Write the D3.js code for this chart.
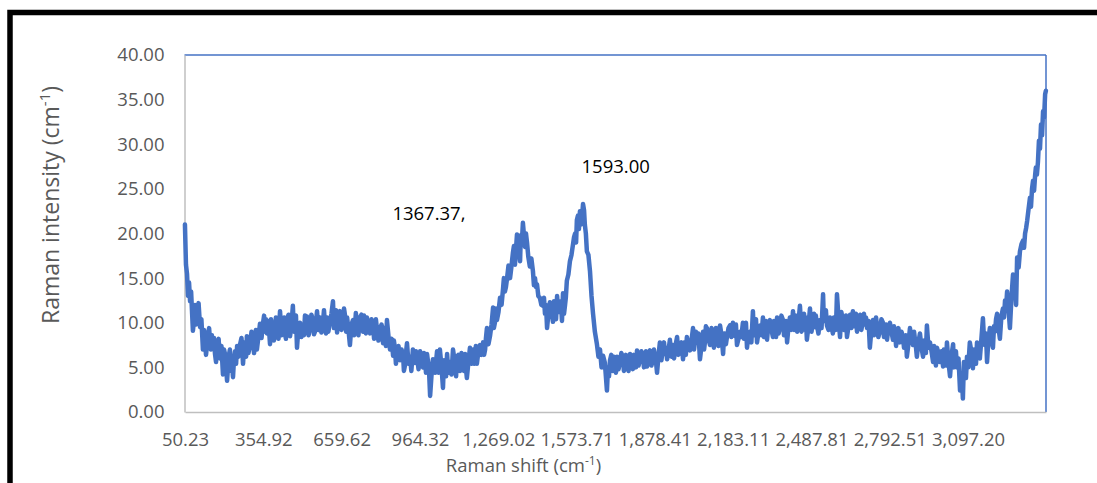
<!DOCTYPE html>
<html><head><meta charset="utf-8">
<script src="https://cdn.jsdelivr.net/npm/d3@7"></script>
<style>
body{margin:0;background:#fff;overflow:hidden}
svg{display:block}
text{font-family:"Open Sans",sans-serif}
</style>
</head><body>
<svg id="chart" width="1097" height="483"></svg>
<script>
// Raman shift (cm-1) and intensity (first reading pass)
const ramanShift = [
50,54,58,62,66,70,78,81,89,97,
109,120,128,136,144,151,159,167,175,186,
198,206,214,225,233,237,245,253,264,276,
284,291,303,315,323,330,342,354,361,369,
381,389,393,400,408,420,432,439,447,459,
470,478,486,498,509,517,525,537,548,556,
564,575,587,595,603,614,626,634,642,653,
665,673,681,692,704,712,719,731,743,751,
758,770,782,789,797,809,821,828,836,848,
860,867,875,887,899,906,914,926,937,945,
953,965,976,984,992,1000,1004,1011,1015,1031,
1042,1054,1062,1070,1081,1093,1101,1109,1120,1132,
1140,1147,1159,1171,1179,1186,1198,1210,1218,1225,
1237,1249,1256,1264,1276,1288,1295,1303,1315,1326,
1334,1342,1354,1361,1365,1373,1381,1392,1404,1412,
1420,1431,1443,1451,1459,1466,1470,1482,1490,1498,
1509,1517,1521,1529,1536,1548,1560,1568,1575,1583,
1587,1595,1599,1606,1614,1626,1638,1645,1653,1665,
1677,1684,1692,1696,1704,1715,1723,1731,1743,1754,
1762,1770,1782,1793,1801,1809,1821,1832,1840,1848,
1859,1871,1879,1887,1898,1910,1918,1926,1937,1949,
1957,1965,1976,1988,1996,2003,2015,2027,2035,2042,
2054,2066,2074,2081,2093,2105,2112,2120,2132,2144,
2151,2159,2171,2182,2190,2198,2210,2221,2229,2237,
2249,2260,2268,2276,2288,2299,2307,2315,2326,2338,
2346,2354,2365,2377,2385,2393,2404,2416,2424,2432,
2443,2455,2463,2470,2482,2494,2502,2509,2521,2533,
2540,2548,2560,2571,2579,2587,2599,2610,2618,2626,
2638,2649,2657,2665,2677,2688,2696,2704,2715,2727,
2735,2743,2754,2766,2774,2782,2793,2805,2813,2821,
2832,2844,2852,2859,2871,2883,2891,2898,2910,2922,
2930,2937,2949,2961,2969,2976,2988,3000,3007,3015,
3027,3039,3046,3054,3066,3073,3077,3085,3093,3104,
3116,3124,3132,3143,3155,3163,3171,3182,3194,3202,
3210,3221,3233,3241,3249,3256,3260,3272,3280,3284,
3288,3299,3311,3319,3327,3338,3342,3350,3358,3361,
3369,3373,3377,3381,3385,3389,3393,3397,3400
];
const intensity = [
21.0,16.5,15.5,13.0,14.5,12.4,11.0,9.1,12.0,11.0,
9.5,7.0,8.0,7.5,9.4,7.0,7.2,6.5,7.5,6.0,
4.2,6.5,3.5,7.0,5.5,3.9,6.8,7.4,7.5,5.4,
7.8,8.5,7.5,7.5,8.3,7.0,9.9,10.0,9.0,8.8,
7.6,9.5,9.9,8.7,9.0,11.3,9.3,8.8,10.4,8.5,
11.9,9.8,7.2,10.0,9.4,10.8,10.7,9.4,10.3,9.0,
11.3,10.6,10.0,9.8,10.6,10.0,12.4,10.5,8.9,11.3,
10.0,10.8,10.6,7.5,10.3,9.6,10.0,10.6,9.0,10.2,
10.6,8.8,9.7,8.9,9.3,9.4,7.7,8.5,10.3,7.0,
6.3,7.2,6.5,5.8,6.3,5.2,7.7,6.2,7.0,5.5,
6.2,6.8,5.0,5.8,6.5,4.5,1.8,4.8,5.9,6.8,
7.0,2.7,5.0,6.5,5.6,7.0,5.0,6.2,4.6,5.8,
6.5,3.8,7.2,7.0,6.2,5.4,7.5,7.8,7.0,9.4,
8.5,11.7,10.0,10.3,12.8,13.9,13.5,14.9,15.0,17.8,
16.5,19.9,16.9,19.0,21.2,18.5,19.0,16.3,15.8,15.0,
14.3,12.8,11.9,11.0,9.4,11.5,12.3,10.1,11.5,13.0,
11.5,10.2,13.3,12.0,14.7,16.9,18.8,20.0,21.5,20.5,
22.5,21.8,23.3,21.0,18.0,15.8,11.0,9.0,7.6,7.0,
6.3,5.5,2.4,5.0,5.8,4.6,5.5,6.2,5.6,6.2,
5.0,5.3,6.5,4.8,6.0,6.9,5.9,6.5,5.8,5.1,
6.9,5.9,6.3,4.4,7.8,7.2,6.5,5.9,8.1,7.5,
6.8,8.4,6.9,5.9,7.5,8.4,6.9,9.4,8.2,7.8,
5.9,9.0,8.0,9.4,7.5,9.0,8.0,8.4,9.7,6.5,
8.8,8.4,9.7,10.0,8.5,7.5,9.0,10.0,9.0,7.2,
9.0,11.3,9.5,7.8,9.7,10.6,9.2,8.1,10.3,8.4,
9.5,10.6,9.4,10.3,9.0,7.8,10.6,11.3,10.0,9.0,
11.9,10.0,9.2,8.1,11.6,10.3,9.5,9.7,10.3,13.2,
10.5,9.7,10.6,8.8,10.0,13.2,8.4,10.3,9.5,8.4,
10.9,11.3,10.2,9.0,10.9,10.3,9.8,9.4,7.2,10.3,
9.5,9.7,9.0,10.0,9.2,8.1,10.0,8.1,9.0,8.8,
7.8,8.4,7.8,6.2,9.4,7.5,8.0,6.2,8.8,6.2,
7.5,9.7,7.8,5.6,6.5,7.2,5.6,5.1,6.5,7.8,
4.0,7.6,6.0,5.0,2.4,4.0,1.5,4.5,6.2,7.8,
4.9,6.5,7.8,6.0,10.5,7.5,5.6,9.4,7.2,9.0,
11.0,8.2,11.6,12.5,13.5,11.0,9.4,15.4,14.5,12.0,
17.3,18.0,19.2,20.0,21.4,24.0,23.0,25.9,26.5,27.4,
28.0,30.4,29.5,32.2,31.0,33.7,33.0,35.6,36.0
];
// second reading pass: the opposite edge of the dense noise band, between the first-pass points
const ramanShiftB = [
74,85,93,103,
114,124,132,140,148,155,163,171,181,192,
202,210,220,229,241,249,258,270,280,
288,297,309,319,326,336,348,358,365,375,
385,396,404,414,426,436,443,453,464,
474,482,492,503,513,521,531,542,552,560,
569,581,591,599,608,620,630,638,647,659,
669,677,686,698,708,715,725,737,747,754,
764,776,786,793,803,815,825,832,842,854,
863,871,881,893,902,910,920,931,941,949,
959,970,980,988,996,1023,1036,
1048,1058,1066,1075,1087,1097,1105,1114,1126,1136,
1143,1153,1165,1175,1182,1192,1204,1214,1221,1231,
1243,1252,1260,1270,1282,1291,1299,1309,1320,1330,
1338,1348,1357,1377,1386,1398,1408,1416,
1425,1437,1447,1455,1476,1486,1494,1503,
1513,1525,1532,1542,1554,1564,1572,1579,
1591,1603,1610,1620,1632,1659,
1671,1700,1709,1719,1727,1737,1748,1758,
1766,1776,1787,1797,1805,1815,1826,1836,1844,1853,
1865,1875,1883,1893,1904,1914,1922,1932,1943,1953,
1961,1970,1982,1992,1999,2009,2021,2031,2038,2048,
2060,2070,2077,2087,2099,2108,2116,2126,2138,2148,
2155,2165,2176,2186,2194,2204,2215,2225,2233,2243,
2254,2264,2272,2282,2293,2303,2311,2320,2332,2342,
2350,2360,2371,2381,2389,2398,2410,2420,2428,2437,
2449,2459,2466,2476,2488,2498,2505,2515,2527,2536,
2544,2554,2565,2575,2583,2593,2604,2614,2622,2632,
2643,2653,2661,2671,2682,2692,2700,2710,2721,2731,
2739,2748,2760,2770,2778,2787,2799,2809,2817,2826,
2838,2848,2855,2865,2877,2887,2894,2904,2916,2926,
2933,2943,2955,2965,2972,2982,2994,3003,3011,3021,
3033,3042,3050,3060,3081,3089,3098,3110,
3120,3128,3137,3149,3159,3167,3176,3188,3198,3206,
3215,3227,3237,3245,3266,3276,
3294,3305,3315,3323,3332,3346,3354,3365
];
const intensityB = [
13.5,10.2,9.8,12.2,
10.4,9.2,6.4,8.8,7.9,8.6,8.3,5.6,8.2,7.4,
7.0,5.0,6.2,4.6,6.0,5.4,6.2,8.3,7.2,
6.2,6.6,9.0,6.6,9.2,8.4,8.3,10.8,10.4,10.2,
10.4,8.0,10.6,8.2,8.6,10.6,8.2,10.9,9.6,
9.0,10.8,9.6,8.4,8.6,9.2,8.6,10.9,8.7,10.2,
9.2,8.9,11.4,8.8,9.0,11.0,9.4,11.4,10.6,9.2,
11.6,9.0,9.3,9.8,8.6,11.1,8.6,10.9,10.8,8.8,
9.4,10.4,8.2,10.4,8.0,9.8,9.4,7.4,8.5,8.2,
8.0,5.4,7.4,7.0,4.6,6.6,5.4,4.6,6.4,6.8,
4.8,5.4,6.6,4.4,5.6,4.4,4.4,
5.2,5.8,4.0,4.4,4.2,6.2,4.0,6.4,6.6,4.6,
5.0,5.6,5.4,5.4,7.4,6.8,6.4,6.4,8.2,7.6,
9.8,9.4,11.6,11.2,12.0,15.0,14.0,16.4,16.2,18.6,
18.2,18.6,19.8,20.0,17.4,17.2,14.2,14.0,
13.0,12.0,12.8,12.0,11.4,12.4,10.4,11.2,
12.4,11.0,12.8,15.4,17.6,19.6,19.0,22.0,
21.0,22.6,20.0,17.6,13.0,6.2,
5.0,4.0,6.4,6.2,4.4,4.8,6.6,4.6,
6.4,4.6,5.6,6.4,5.0,5.2,6.8,5.0,6.8,6.4,
5.2,7.0,5.6,6.4,5.8,7.8,7.2,7.0,6.2,6.0,
7.8,6.4,7.8,7.8,6.4,7.6,8.0,7.0,9.0,8.8,
7.4,7.0,9.6,8.2,9.4,7.2,9.4,7.4,8.6,8.8,
7.6,9.4,8.4,8.6,9.8,8.2,8.4,8.2,10.0,8.8,
7.8,8.6,10.4,9.0,8.6,8.4,10.2,9.8,9.2,10.2,
8.4,8.8,10.8,8.6,10.2,9.4,9.2,9.2,10.8,10.0,
9.0,11.0,10.6,9.6,9.0,11.0,10.8,8.8,9.4,10.2,
11.4,9.2,9.8,10.6,9.2,10.6,11.2,9.2,10.8,9.6,
9.4,9.6,11.0,10.2,9.2,11.0,10.6,10.2,9.2,8.6,
10.6,8.4,10.4,8.4,9.8,9.4,9.0,9.6,7.4,9.4,
9.0,7.2,8.6,7.6,8.4,9.0,7.4,7.8,7.2,8.0,
6.6,7.2,6.8,7.4,5.2,6.6,6.8,7.0,5.2,5.6,
6.4,5.0,6.8,6.0,5.6,3.8,5.0,6.8,
7.0,5.4,6.4,8.2,8.2,8.8,8.0,8.0,9.6,10.4,
9.6,10.8,10.6,11.6,12.8,13.2,
16.2,18.8,18.4,20.6,22.6,25.0,24.8,26.6
];
const xTickValues = [50.23, 354.92, 659.62, 964.32, 1269.02, 1573.71, 1878.41, 2183.11, 2487.81, 2792.51, 3097.20];
const yTickValues = [0, 5, 10, 15, 20, 25, 30, 35, 40];
const peakShifts = [1367.37, 1593.00];
const peakLabels = ["1367.37,", "1593.00"];
const peakLabelY = [21.5, 26.8];
const xTitle = "Raman shift (cm";
const yTitle = "Raman intensity (cm";

const svg = d3.select("#chart");
const W = 1097, H = 483;
const plot = {left: 185, right: 1046, top: 55, bottom: 412};

// outer black frame (cropped at right and bottom in the reference)
svg.append("rect").attr("x", 10).attr("y", 12.5).attr("width", W + 20).attr("height", H + 20)
  .attr("fill", "none").attr("stroke", "#000").attr("stroke-width", 5.5);

const x = d3.scaleLinear().domain([50.23, 3400.4]).range([plot.left, plot.right]);
const y = d3.scaleLinear().domain([0, 40]).range([plot.bottom, plot.top]);

// plot area border: top & right in blue, axes in grey
svg.append("line").attr("x1", plot.left - 0.5).attr("x2", plot.right).attr("y1", plot.top).attr("y2", plot.top)
  .attr("stroke", "#4472C4").attr("stroke-width", 1.5);
svg.append("line").attr("x1", plot.right).attr("x2", plot.right).attr("y1", plot.top).attr("y2", plot.bottom)
  .attr("stroke", "#4472C4").attr("stroke-width", 1.5);

const yAxis = svg.append("g").attr("transform", `translate(${plot.left - 0.5},0)`)
  .call(d3.axisLeft(y).tickValues(yTickValues).tickSize(0).tickPadding(20).tickFormat(d3.format(".2f")));
yAxis.select(".domain").attr("stroke", "#BFBFBF").attr("stroke-width", 1.5);
yAxis.selectAll("text").attr("fill", "#595959").style("font-size", "18.5px").style("font-family", "Open Sans");

const xAxis = svg.append("g").attr("transform", `translate(0,${plot.bottom})`)
  .call(d3.axisBottom(x).tickValues(xTickValues).tickSize(0).tickPadding(21).tickFormat(d3.format(",.2f")));
xAxis.select(".domain").attr("stroke", "#BFBFBF").attr("stroke-width", 1.5);
xAxis.selectAll("text").attr("fill", "#595959").style("font-size", "18.5px").style("font-family", "Open Sans");

// spectrum: both reading passes merged in order of Raman shift
const nA = Math.min(ramanShift.length, intensity.length);
const nB = Math.min(ramanShiftB.length, intensityB.length);
const data = d3.range(nA).map(i => [ramanShift[i], intensity[i]])
  .concat(d3.range(nB).map(i => [ramanShiftB[i], intensityB[i]]))
  .sort((a, b) => a[0] - b[0]);
svg.append("path").datum(data)
  .attr("fill", "none").attr("stroke", "#4472C4").attr("stroke-width", 4.5)
  .attr("stroke-linejoin", "round").attr("stroke-linecap", "round")
  .attr("d", d3.line().x(d => x(d[0])).y(d => y(d[1])));

// peak labels
svg.append("text").attr("x", x(peakShifts[0]) - 58).attr("y", y(peakLabelY[0]))
  .attr("text-anchor", "end").attr("fill", "#000").style("font-size", "18.5px").text(peakLabels[0]);
svg.append("text").attr("x", x(peakShifts[1])).attr("y", y(peakLabelY[1]))
  .attr("text-anchor", "start").attr("fill", "#000").style("font-size", "18.5px").text(peakLabels[1]);

// axis titles
const xt = svg.append("text").attr("x", 523.5).attr("y", 472).attr("text-anchor", "middle")
  .attr("fill", "#595959").style("font-size", "18.5px");
xt.append("tspan").text(xTitle);
xt.append("tspan").attr("dy", -7).style("font-size", "12px").text("-1");
xt.append("tspan").attr("dy", 7).text(")");

const yt = svg.append("text").attr("transform", "translate(59,205) rotate(-90)").attr("text-anchor", "middle")
  .attr("fill", "#595959").style("font-size", "23px");
yt.append("tspan").text(yTitle);
yt.append("tspan").attr("dy", -9).style("font-size", "15px").text("-1");
yt.append("tspan").attr("dy", 9).text(")");
</script>
</body></html>
